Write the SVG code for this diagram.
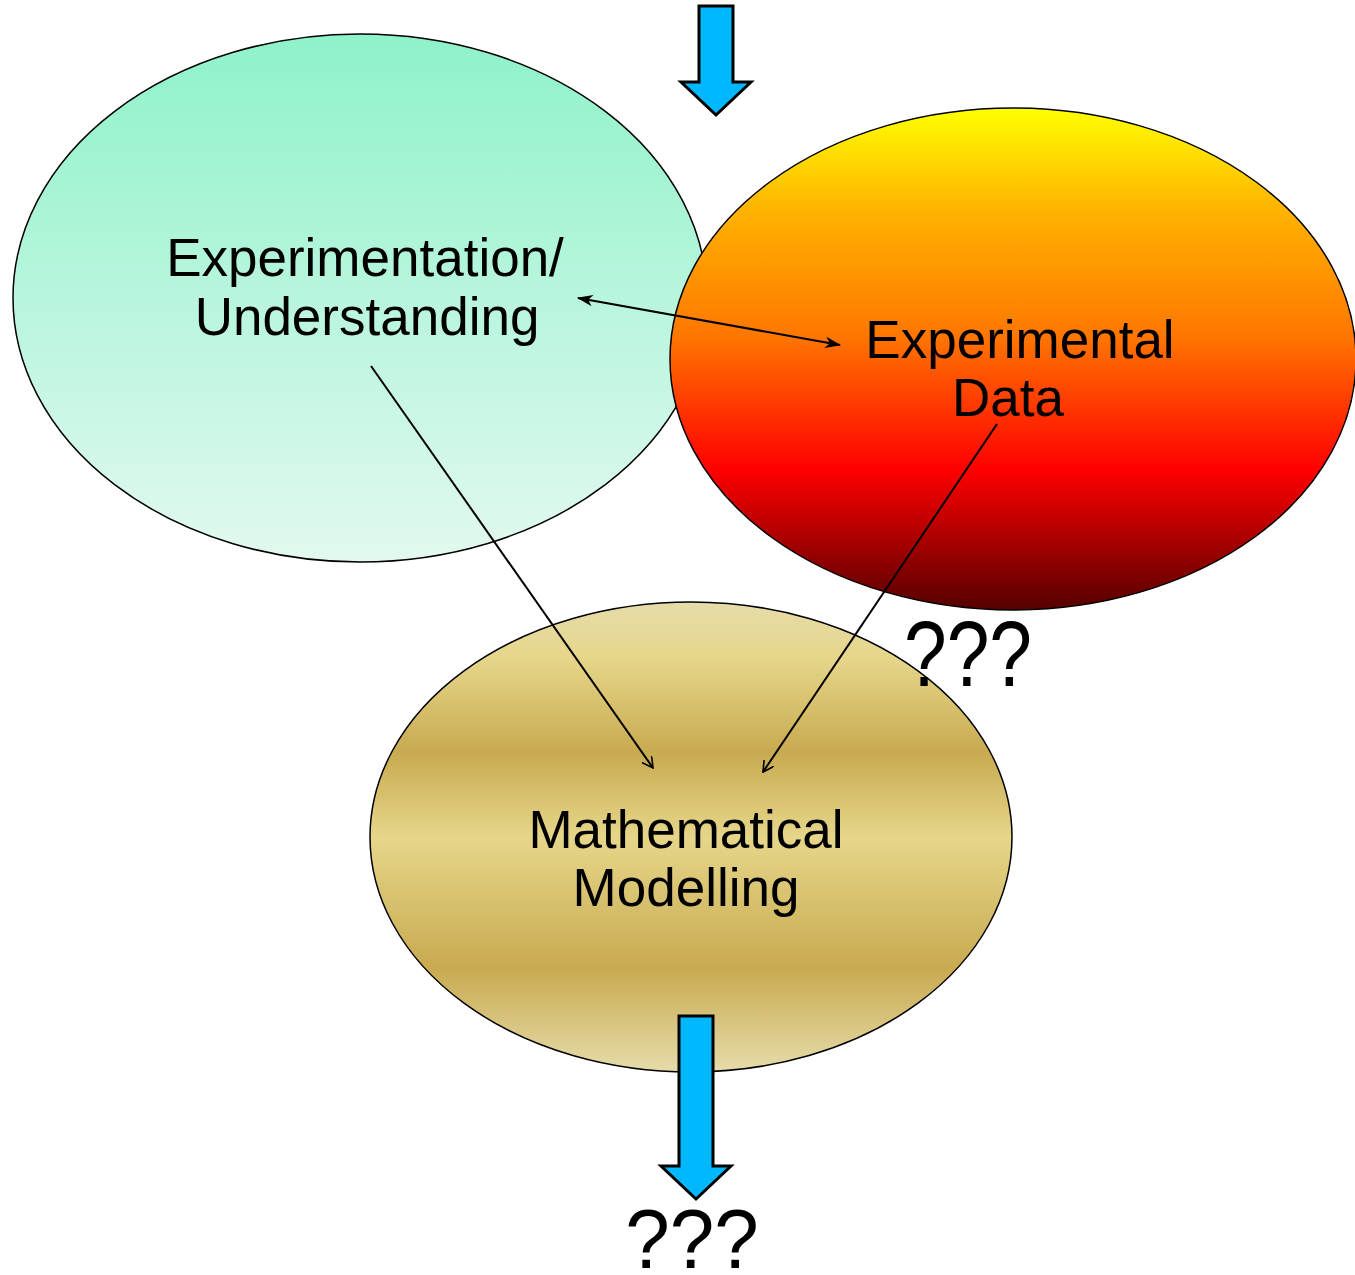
<svg xmlns="http://www.w3.org/2000/svg" width="1355" height="1275" viewBox="0 0 1355 1275">
<style>
.lbl{font-family:"Liberation Sans",Arial,sans-serif;font-size:53px;fill:#000;text-anchor:middle}
.q{font-family:"Liberation Sans",Arial,sans-serif;font-size:80px;fill:#000;text-anchor:middle}
.node{stroke:#000;stroke-width:1.5}
.conn{stroke:#000;stroke-width:2;fill:none}
.big{fill:#00b8ff;stroke:#000;stroke-width:3;stroke-linejoin:miter}
</style>
<defs>
<linearGradient id="gGreen" x1="0" y1="0" x2="0" y2="1">
<stop offset="0" stop-color="#8ef2ca"/>
<stop offset="1" stop-color="#e2f9ef"/>
</linearGradient>
<linearGradient id="gRed" x1="0" y1="0" x2="0" y2="1">
<stop offset="0" stop-color="#ffff00"/>
<stop offset="0.2" stop-color="#ffb400"/>
<stop offset="0.45" stop-color="#ff7800"/>
<stop offset="0.72" stop-color="#ff0000"/>
<stop offset="1" stop-color="#550000"/>
</linearGradient>
<linearGradient id="gGold" x1="0" y1="0" x2="0" y2="1">
<stop offset="0" stop-color="#e6dcaa"/>
<stop offset="0.12" stop-color="#e6d68a"/>
<stop offset="0.32" stop-color="#c8aa50"/>
<stop offset="0.5" stop-color="#e6d68a"/>
<stop offset="0.78" stop-color="#c8aa50"/>
<stop offset="1" stop-color="#e6dcaa"/>
</linearGradient>
<marker id="open" viewBox="0 0 12 12" refX="11" refY="6" markerWidth="12" markerHeight="12" markerUnits="userSpaceOnUse" orient="auto-start-reverse">
<path d="M0,0 L11,6 L0,12" fill="none" stroke="#000" stroke-width="1.6"/>
</marker>
<marker id="solid" viewBox="0 0 14 10" refX="13" refY="5" markerWidth="16" markerHeight="12" markerUnits="userSpaceOnUse" orient="auto-start-reverse">
<path d="M0,0 L14,5 L0,10 L4,5 Z" fill="#000"/>
</marker>
</defs>
<g id="top-arrow">
<path class="big" d="M699,6 H733 V82 H751 L716,115 L681,82 H699 Z"/>
</g>
<g id="node-understanding">
<ellipse class="node" cx="360" cy="298" rx="347" ry="264" fill="url(#gGreen)"/>
<text class="lbl" x="365" y="276">Experimentation/</text>
<text class="lbl" x="367" y="335">Understanding</text>
</g>
<g id="node-data">
<ellipse class="node" cx="1013" cy="359" rx="343" ry="251" fill="url(#gRed)"/>
<text class="lbl" x="1020" y="358">Experimental</text>
<text class="lbl" x="1008" y="416">Data</text>
</g>
<g id="node-modelling">
<ellipse class="node" cx="691" cy="837" rx="321" ry="235" fill="url(#gGold)"/>
<text class="lbl" x="686" y="848">Mathematical</text>
<text class="lbl" x="686" y="906">Modelling</text>
</g>
<g id="connectors">
<line class="conn" x1="578" y1="298" x2="840" y2="345" marker-start="url(#solid)" marker-end="url(#solid)"/>
<line class="conn" x1="371" y1="366" x2="653" y2="768" marker-end="url(#open)"/>
<line class="conn" x1="997" y1="424" x2="763" y2="772" marker-end="url(#open)"/>
</g>
<g id="bottom-arrow">
<path class="big" d="M679,1016 H713 V1166 H731 L696,1199 L661,1166 H679 Z"/>
</g>
<text class="q" transform="translate(968,686) scale(0.96,1.15)">???</text>
<text class="q" transform="translate(692,1268) scale(1,1.04)">???</text>
</svg>
